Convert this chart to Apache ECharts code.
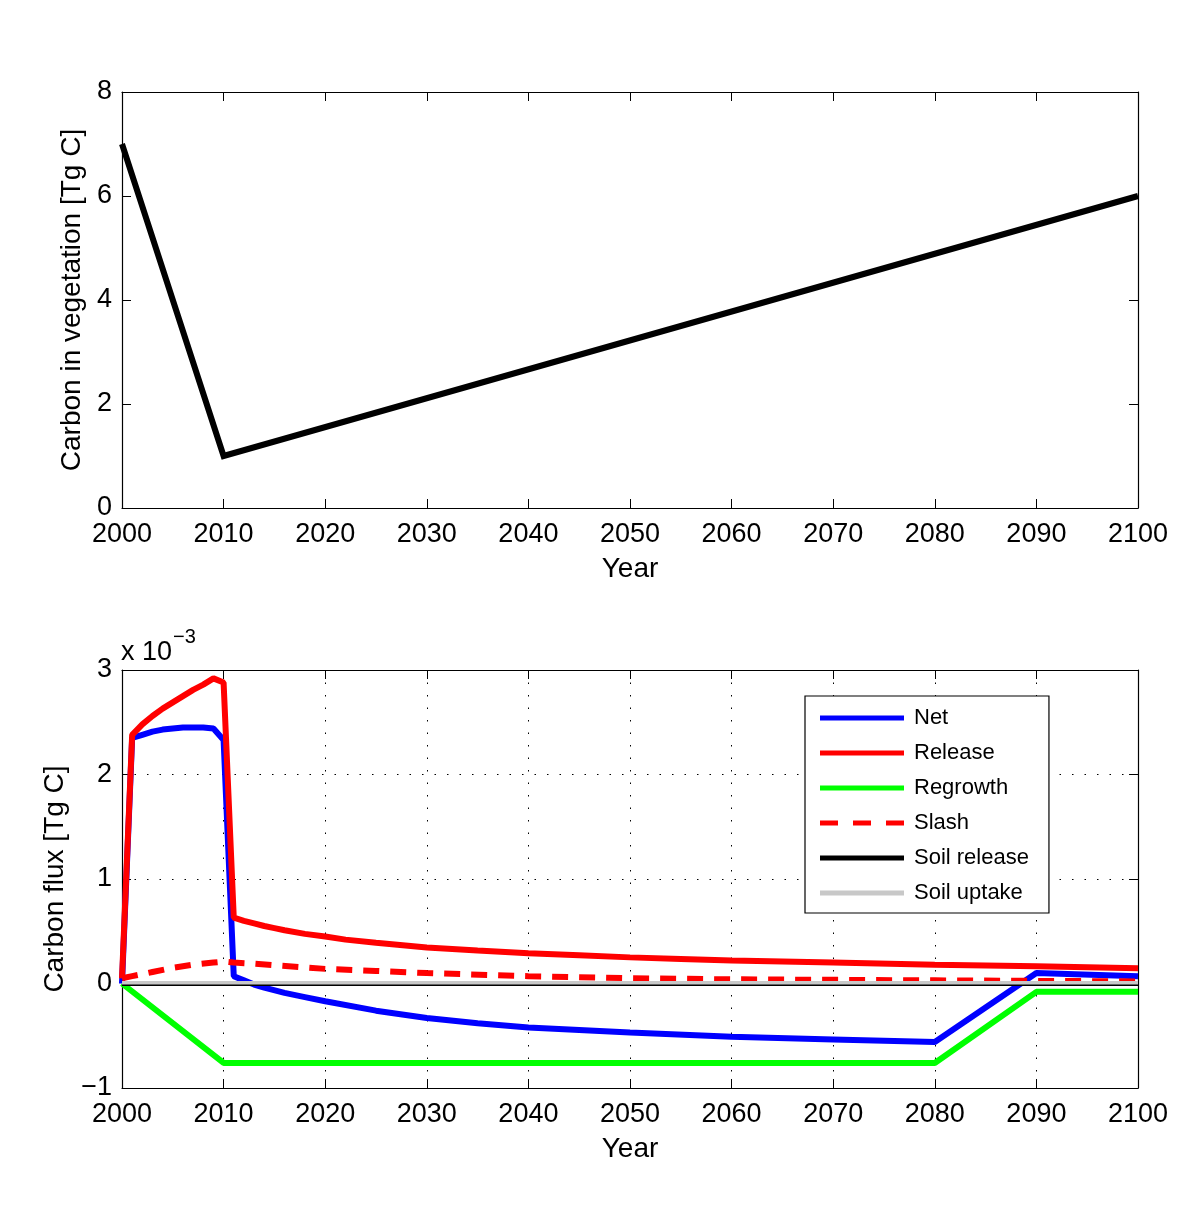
<!DOCTYPE html>
<html>
<head>
<meta charset="utf-8">
<script src="https://cdn.jsdelivr.net/npm/echarts@6/dist/echarts.min.js"></script>
<style>
html,body{margin:0;padding:0;background:#fff;}
#chart{width:1200px;height:1225px;}
</style>
</head>
<body>
<div id="chart"></div>
<script>
// ---- Top panel: carbon in vegetation [Tg C]
const vegYears = [2000, 2010, 2100];
const vegCarbon = [7, 1, 6];

// ---- Bottom panel: carbon flux, in units of 1e-3 Tg C
const netYears = [2000,2001,2002,2003,2004,2005,2006,2007,2008,2009,2010,2011,2012,2013,2014,2016,2018,2020,2025,2030,2035,2040,2050,2060,2070,2080,2090,2100];
const netVals  = [0.0,2.35,2.38,2.41,2.43,2.44,2.45,2.45,2.45,2.44,2.33,0.07,0.03,-0.01,-0.04,-0.09,-0.13,-0.17,-0.26,-0.33,-0.38,-0.42,-0.47,-0.51,-0.535,-0.56,0.10,0.07];

const releaseYears = [2000,2001,2002,2003,2004,2005,2006,2007,2008,2009,2010,2011,2012,2013,2014,2015,2016,2018,2020,2022,2025,2030,2035,2040,2045,2050,2055,2060,2070,2080,2090,2100];
const releaseVals  = [0.05,2.38,2.48,2.56,2.63,2.69,2.75,2.81,2.86,2.92,2.88,0.63,0.60,0.575,0.55,0.53,0.51,0.475,0.45,0.42,0.39,0.345,0.315,0.29,0.27,0.25,0.235,0.22,0.20,0.18,0.165,0.145];

const regrowthYears = [2000, 2010, 2080, 2090, 2100];
const regrowthVals  = [0, -0.76, -0.76, -0.08, -0.08];

const slashYears = [2000,2001,2003,2005,2007,2009,2010,2011,2013,2015,2020,2025,2030,2040,2050,2060,2070,2080,2090,2100];
const slashVals  = [0.05,0.07,0.11,0.15,0.18,0.20,0.21,0.20,0.19,0.175,0.14,0.12,0.10,0.07,0.05,0.04,0.035,0.03,0.025,0.02];

const soilReleaseYears = [2000, 2100];
const soilReleaseVals  = [-0.012, -0.012];
const soilUptakeYears  = [2000, 2100];
const soilUptakeVals   = [0.008, 0.008];

const legendNames = ['Net', 'Release', 'Regrowth', 'Slash', 'Soil release', 'Soil uptake'];

const pairs = (xs, ys) => xs.map((x, i) => [x, ys[i]]);

const FONT = 'Liberation Sans, Arial, Helvetica, sans-serif';
const FS = 27;   // tick labels
const NFS = 28;  // axis names

function xAx(grid, pos, labels, name) {
  return {
    type: 'value', gridIndex: grid, position: pos, min: 2000, max: 2100, interval: 10,
    axisLine: { show: true, onZero: false, lineStyle: { color: '#000', width: 1.2 } },
    axisTick: { show: true, inside: true, length: 9, lineStyle: { color: '#000', width: 1 } },
    axisLabel: { show: labels, color: '#000', fontSize: FS, fontFamily: FONT, margin: 13,
      formatter: v => String(v) },
    splitLine: { show: false },
    name: name || '', nameLocation: 'middle', nameGap: 47,
    nameTextStyle: { color: '#000', fontSize: NFS, fontFamily: FONT }
  };
}
function yAx(grid, pos, labels, min, max, name, gap, split) {
  return {
    type: 'value', gridIndex: grid, position: pos, min: min, max: max, interval: (grid === 0 ? 2 : 1),
    axisLine: { show: true, onZero: false, lineStyle: { color: '#000', width: 1.2 } },
    axisTick: { show: true, inside: true, length: 9, lineStyle: { color: '#000', width: 1 } },
    axisLabel: { show: labels, color: '#000', fontSize: FS, fontFamily: FONT, margin: 10,
      formatter: v => (v < 0 ? '\u2212' + Math.abs(v) : String(v)) },
    splitLine: { show: !!split, lineStyle: { color: '#000', width: 1, type: [1.5, 11] } },
    name: name || '', nameLocation: 'middle', nameGap: gap || 0, nameRotate: 90,
    nameTextStyle: { color: '#000', fontSize: NFS, fontFamily: FONT }
  };
}

const topXBottom = xAx(0, 'bottom', true, 'Year');
const topXTop = xAx(0, 'top', false);
const botXBottom = xAx(1, 'bottom', true, 'Year');
botXBottom.splitLine = { show: true, lineStyle: { color: '#000', width: 1, type: [1.5, 11] } };
const botXTop = xAx(1, 'top', false);

const SOLID_ICON = 'path://M0,7.5 L84,7.5 L84,12.5 L0,12.5 Z';
const DASH_ICON = 'path://M0,7.5 L18,7.5 L18,12.5 L0,12.5 Z M33,7.5 L51,7.5 L51,12.5 L33,12.5 Z M66,7.5 L84,7.5 L84,12.5 L66,12.5 Z';
const legendIcons = [SOLID_ICON, SOLID_ICON, SOLID_ICON, DASH_ICON, SOLID_ICON, SOLID_ICON];

const LW = 6;
const option = {
  animation: false,
  backgroundColor: '#fff',
  grid: [
    { left: 122, right: 62, top: 92, height: 416, show: false },
    { left: 122, right: 62, top: 670, height: 418, show: false }
  ],
  xAxis: [topXBottom, topXTop, botXBottom, botXTop],
  yAxis: [
    yAx(0, 'left', true, 0, 8, 'Carbon in vegetation [Tg C]', 34),
    yAx(0, 'right', false, 0, 8),
    yAx(1, 'left', true, -1, 3, 'Carbon flux [Tg C]', 53, true),
    yAx(1, 'right', false, -1, 3)
  ],
  legend: {
    data: legendNames.map((n, i) => ({ name: n, icon: legendIcons[i] })),
    orient: 'vertical', left: 805, top: 696,
    itemWidth: 84, itemHeight: 20, itemGap: 13,
    padding: [11, 20, 9, 15],
    backgroundColor: '#fff', borderColor: '#000', borderWidth: 1.2, borderRadius: 0,
    textStyle: { color: '#000', fontSize: 22, fontFamily: FONT, padding: [0, 0, 0, 5] },
    selectedMode: false
  },
  graphic: [
    {
      type: 'text', left: 121, top: 627,
      style: {
        text: 'x 10{sup|\u22123}', fill: '#000',
        font: FS + 'px ' + FONT,
        rich: { sup: { fontSize: 20, fontFamily: FONT, fill: '#000', padding: [0, 0, 31, 1] } }
      }
    }
  ],
  series: [
    {
      name: 'Vegetation', type: 'line', xAxisIndex: 0, yAxisIndex: 0,
      data: pairs(vegYears, vegCarbon), symbol: 'none',
      lineStyle: { color: '#000', width: 6, join: 'miter' }, z: 3
    },
    {
      name: 'Net', type: 'line', xAxisIndex: 2, yAxisIndex: 2,
      data: pairs(netYears, netVals), symbol: 'none', itemStyle: { color: '#0000ff' },
      lineStyle: { color: '#0000ff', width: LW }, z: 3
    },
    {
      name: 'Release', type: 'line', xAxisIndex: 2, yAxisIndex: 2,
      data: pairs(releaseYears, releaseVals), symbol: 'none', itemStyle: { color: '#ff0000' },
      lineStyle: { color: '#ff0000', width: LW }, z: 4
    },
    {
      name: 'Regrowth', type: 'line', xAxisIndex: 2, yAxisIndex: 2,
      data: pairs(regrowthYears, regrowthVals), symbol: 'none', itemStyle: { color: '#00ff00' },
      lineStyle: { color: '#00ff00', width: LW }, z: 5
    },
    {
      name: 'Slash', type: 'line', xAxisIndex: 2, yAxisIndex: 2,
      data: pairs(slashYears, slashVals), symbol: 'none', itemStyle: { color: '#ff0000' },
      lineStyle: { color: '#ff0000', width: LW, type: [16, 11] }, z: 6
    },
    {
      name: 'Soil release', type: 'line', xAxisIndex: 2, yAxisIndex: 2,
      data: pairs(soilReleaseYears, soilReleaseVals), symbol: 'none', itemStyle: { color: '#000' },
      lineStyle: { color: '#000', width: 2.5 }, z: 7
    },
    {
      name: 'Soil uptake', type: 'line', xAxisIndex: 2, yAxisIndex: 2,
      data: pairs(soilUptakeYears, soilUptakeVals), symbol: 'none', itemStyle: { color: '#c8c8c8' },
      lineStyle: { color: '#c8c8c8', width: 3.5 }, z: 8
    }
  ]
};

const chart = echarts.init(document.getElementById('chart'), null, { renderer: 'canvas' });
chart.setOption(option);
</script>
</body>
</html>
